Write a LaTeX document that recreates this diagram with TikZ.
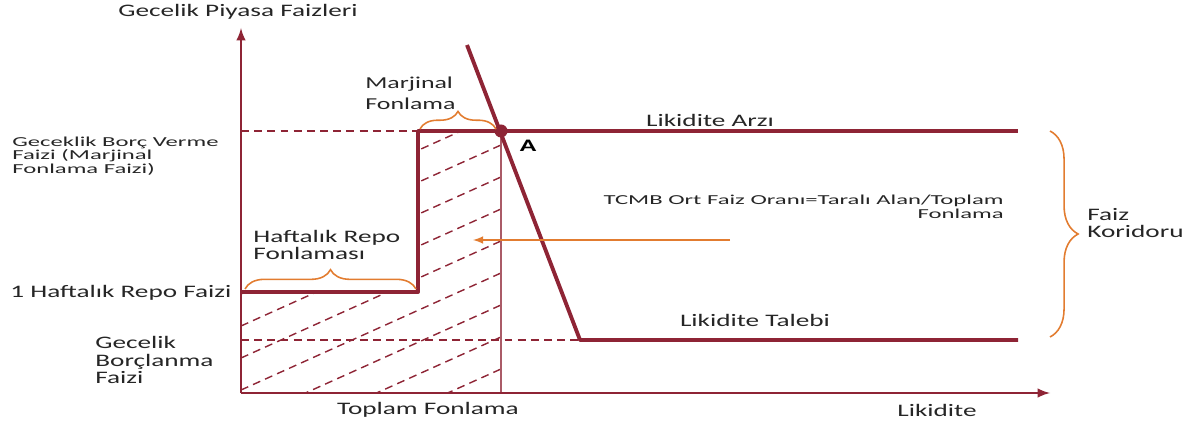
\documentclass[tikz,border=0pt]{standalone}
\usepackage{fontspec}
\setmainfont{Carlito}[FakeStretch=1.55]
\newfontfamily\genisyazi{Carlito}[FakeStretch=1.8]
\usetikzlibrary{decorations.pathreplacing}
\tikzset{>=latex}
\definecolor{koyukirmizi}{HTML}{8E2435}
\definecolor{turuncu}{HTML}{E27C30}
\definecolor{yazi}{HTML}{262626}
\newcommand{\buyukyazi}{\fontsize{10}{10}\selectfont}
\newcommand{\kucukyazi}{\genisyazi\fontsize{7.8}{7.8}\selectfont}

\begin{document}
\begin{tikzpicture}[x=0.02cm,y=-0.02cm,
    eksen/.style={draw=koyukirmizi,line width=1.4pt,->},
    egri/.style={draw=koyukirmizi,line width=2.2pt,line join=round},
    kesik/.style={draw=koyukirmizi,line width=0.8pt,dash pattern=on 4.5pt off 3pt},
    parantez/.style={draw=turuncu,line width=0.9pt,decorate,decoration={brace,amplitude=#1}}]
\useasboundingbox (0,0) rectangle (1192,425);

\coordinate (O) at (241,393);
\coordinate (yucu) at (241,28);
\coordinate (xucu) at (1050,393);
\coordinate (arzbas) at (418,131);
\coordinate (arzson) at (1018,131);
\coordinate (basamak) at (418,292);
\coordinate (repobas) at (241,292);
\coordinate (talepbas) at (467,45);
\coordinate (dirsek) at (580,340);
\coordinate (talepson) at (1018,340);
\coordinate (kesisim) at (501,131);
\coordinate (taban) at (501,393);
\coordinate (okbas) at (730,240);
\coordinate (okson) at (473,240);

% taralı alan
\begin{scope}
\clip (O) -- (taban) -- (kesisim) -- (arzbas) -- (basamak) -- (repobas) -- cycle;
\foreach \c in {134,166,...,518}
    \draw[kesik] (241,\c) -- (501,\c-117);
\end{scope}

\draw[kesik] (O |- arzbas) -- (arzbas);
\draw[kesik] (O |- dirsek) -- (dirsek);
\draw[draw=koyukirmizi!75,line width=0.9pt] (kesisim) -- (taban);

\draw[eksen] (O) -- (yucu);
\draw[eksen] (O) -- (xucu);

\draw[egri] (repobas) -- (basamak) -- (arzbas) -- (arzson);
\draw[egri] (talepbas) -- (dirsek) -- (talepson);
\node[circle,fill=koyukirmizi,inner sep=0pt,minimum size=7.4pt] (nA) at (kesisim) {};

\draw[->,draw=turuncu,line width=1pt] (okbas) -- (okson);
%\draw[parantez=10pt] (arzbas) -- (kesisim);
\draw[parantez=10pt] (420,129) -- (496,129);
\draw[parantez=11pt] (245,289) -- (416,289);
\draw[parantez=16pt] (1050,131) -- (1050,337);

\begin{scope}[every node/.style={text=yazi,font=\buyukyazi,inner sep=0pt}]
\node (baslik) at (238,12) {Gecelik Piyasa Faizleri};
\node[align=left,anchor=west,font=\kucukyazi] (borcverme) at (12,156) {Geceklik Borç Verme\\Faizi (Marjinal\\Fonlama Faizi)};
\node[anchor=west] (repofaizi) at (10,293) {1 Haftalık Repo Faizi};
\node[align=left,anchor=west] (borclanma) at (95,360) {Gecelik\\Borçlanma\\Faizi};
\node[align=left,anchor=west,font=\fontsize{9.5}{12}\selectfont] (marjinal) at (365,93) {Marjinal\\Fonlama};
\node[align=left,anchor=west] (haftalik) at (253,245) {Haftalık Repo\\Fonlaması};
\node[align=right,anchor=east,font=\kucukyazi] (tcmb) at (1004,207) {TCMB Ort Faiz Oranı=Taralı Alan/Toplam\\Fonlama};
\node[align=left,anchor=west] (koridor) at (1087,223) {Faiz\\Koridoru};
\node (arz) at (710,120) {Likidite Arzı};
\node (talep) at (755,320) {Likidite Talebi};
\node (likidite) at (937,410) {Likidite};
\node (toplam) at (428,410) {Toplam Fonlama};
\node[font=\buyukyazi\bfseries,text=black] (A) at (528,146) {A};
\end{scope}
\end{tikzpicture}
\end{document}
